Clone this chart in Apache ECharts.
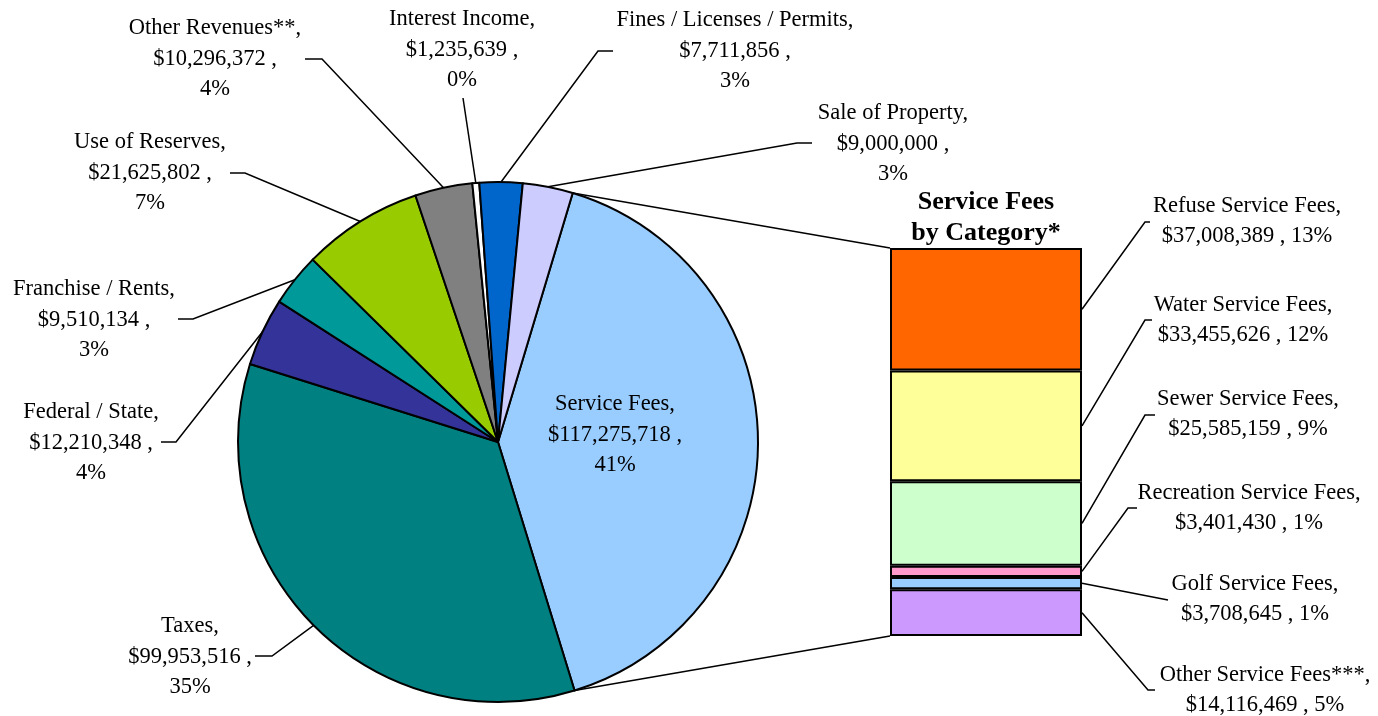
<!DOCTYPE html>
<html lang="en">
<head>
<meta charset="utf-8">
<title>Revenue Sources</title>
<style>
  html, body { margin: 0; padding: 0; background: #fff; }
  #main { width: 1378px; height: 716px; }
</style>
</head>
<body>
<div id="main"></div>
<script src="https://cdn.jsdelivr.net/npm/echarts@6/dist/echarts.min.js"></script>
<script>
// revenue sources, clockwise starting with Service Fees
var sourceNames = ['Service Fees', 'Taxes', 'Federal / State', 'Franchise / Rents', 'Use of Reserves',
    'Other Revenues**', 'Interest Income', 'Fines / Licenses / Permits', 'Sale of Property'];
var sourceValues = [117275718, 99953516, 12210348, 9510134, 21625802, 10296372, 1235639, 7711856, 9000000];

// service fees broken out, bottom of the bar to top
var feeNames = ['Other Service Fees***', 'Golf Service Fees', 'Recreation Service Fees',
    'Sewer Service Fees', 'Water Service Fees', 'Refuse Service Fees'];
var feeValues = [14116469, 3708645, 3401430, 25585159, 33455626, 37008389];

var sourceColors = ['#99CCFF', '#008080', '#333399', '#009999', '#99CC00', '#808080', '#FFFFFF', '#0066CC', '#CCCCFF'];
var feeColors = ['#CC99FF', '#99CCFF', '#FF99CC', '#CCFFCC', '#FFFF99', '#FF6600'];

var FONT = "'Liberation Serif', 'Times New Roman', serif";
var PIE_C = [498, 442], PIE_R = 260, START = 73.3;
var BAR = { left: 890, top: 248, width: 192, height: 388 };

// where the labels sit (text centre) and the bend / end of each leader
var pieLabelPos = [
    { x: 615, y: 435 },
    { x: 190, y: 657, line: [[272, 656], [255, 656]] },
    { x: 91, y: 443, line: [[176, 442], [161, 442]] },
    { x: 94, y: 320, line: [[193, 319], [178, 319]] },
    { x: 150, y: 173, line: [[245, 173], [230, 173]] },
    { x: 215, y: 59, line: [[322, 59], [305, 59]] },
    { x: 462, y: 50, line: [[463, 98], [463, 98]] },
    { x: 735, y: 51, line: [[598, 51], [613, 51]] },
    { x: 893, y: 144, line: [[797, 143], [812, 143]] }
];
var feeLabelPos = [
    { x: 1265, y: 690, line: [[1148, 690], [1155, 690]] },
    { x: 1255, y: 599, line: [[1168, 600]] },
    { x: 1249, y: 508, line: [[1128, 508], [1137, 508]] },
    { x: 1248, y: 414, line: [[1145, 415], [1155, 415]] },
    { x: 1243, y: 320, line: [[1145, 320], [1152, 320]] },
    { x: 1247, y: 221, line: [[1145, 222], [1150, 222]] }
];

var total = sourceValues.reduce(function (a, b) { return a + b; }, 0);
var feeTotal = feeValues.reduce(function (a, b) { return a + b; }, 0);

function money(v) { return '$' + v.toLocaleString('en-US'); }
function pct(v) { return Math.round(v / total * 100); }

var labelText = { color: '#000', fontFamily: FONT, fontSize: 22.5, lineHeight: 30.5, align: 'center' };

var chart = echarts.init(document.getElementById('main'));

var pieData = sourceNames.map(function (n, i) {
    var d = { name: n, value: sourceValues[i], itemStyle: { color: sourceColors[i] } };
    if (i === 0) {
        d.label = { position: 'inside' };
        d.labelLine = { show: false };
    }
    return d;
});

var series = [{
    type: 'pie',
    center: PIE_C,
    radius: PIE_R,
    startAngle: START,
    clockwise: true,
    avoidLabelOverlap: false,
    itemStyle: { borderColor: '#000', borderWidth: 2 },
    label: Object.assign({
        show: true,
        position: 'outside',
        formatter: function (p) {
            return p.name + ',\n' + money(p.value) + ' ,\n' + pct(p.value) + '%';
        }
    }, labelText),
    labelLine: { show: true, lineStyle: { color: '#000', width: 1.5 } },
    labelLayout: function (p) {
        var pos = pieLabelPos[p.dataIndex];
        var out = { x: pos.x, y: pos.y, align: 'center', verticalAlign: 'middle' };
        if (pos.line && p.labelLinePoints) {
            out.labelLinePoints = [p.labelLinePoints[0], pos.line[0], pos.line[1]];
        }
        return out;
    },
    emphasis: { disabled: true },
    data: pieData
}];

feeNames.forEach(function (n, i) {
    series.push({
        type: 'bar',
        name: n,
        stack: 'fees',
        barWidth: '100%',
        itemStyle: { color: feeColors[i], borderColor: '#000', borderWidth: 2 },
        label: Object.assign({
            show: true,
            position: 'inside',
            formatter: function (p) {
                return n + ',\n' + money(p.value) + ' , ' + pct(p.value) + '%';
            }
        }, labelText),
        labelLayout: function () {
            return { x: feeLabelPos[i].x, y: feeLabelPos[i].y, align: 'center', verticalAlign: 'middle' };
        },
        emphasis: { disabled: true },
        data: [feeValues[i]]
    });
});

chart.setOption({
    animation: false,
    backgroundColor: '#fff',
    grid: { left: BAR.left, top: BAR.top, width: BAR.width, height: BAR.height },
    xAxis: {
        type: 'category',
        data: ['Service Fees'],
        position: 'top',
        name: 'Service Fees\nby Category*',
        nameLocation: 'middle',
        nameGap: -1,
        nameTextStyle: { color: '#000', fontFamily: FONT, fontSize: 26, fontWeight: 'bold', lineHeight: 31 },
        axisLine: { show: false },
        axisTick: { show: false },
        axisLabel: { show: false },
        splitLine: { show: false }
    },
    yAxis: { type: 'value', min: 0, max: feeTotal, show: false },
    series: series
});

// connector lines from the Service Fees slice to the bar, and the bar leaders
function edge(deg) {
    var a = deg * Math.PI / 180;
    return [PIE_C[0] + PIE_R * Math.cos(a), PIE_C[1] - PIE_R * Math.sin(a)];
}
var svcAngle = sourceValues[0] / total * 360;
var yTop = chart.convertToPixel({ yAxisIndex: 0 }, feeTotal);
var yBot = chart.convertToPixel({ yAxisIndex: 0 }, 0);
var barRight = BAR.left + BAR.width;
var lineStyle = { stroke: '#000', lineWidth: 1.5 };

var graphics = [
    { type: 'polyline', shape: { points: [edge(START), [BAR.left, yTop]] }, style: lineStyle, silent: true },
    { type: 'polyline', shape: { points: [edge(START - svcAngle), [BAR.left, yBot]] }, style: lineStyle, silent: true }
];
var cum = 0;
feeValues.forEach(function (v, i) {
    var yMid = chart.convertToPixel({ yAxisIndex: 0 }, cum + v / 2);
    cum += v;
    graphics.push({
        type: 'polyline',
        shape: { points: [[barRight, yMid]].concat(feeLabelPos[i].line) },
        style: lineStyle,
        silent: true
    });
});
chart.setOption({ graphic: graphics });
</script>
</body>
</html>
